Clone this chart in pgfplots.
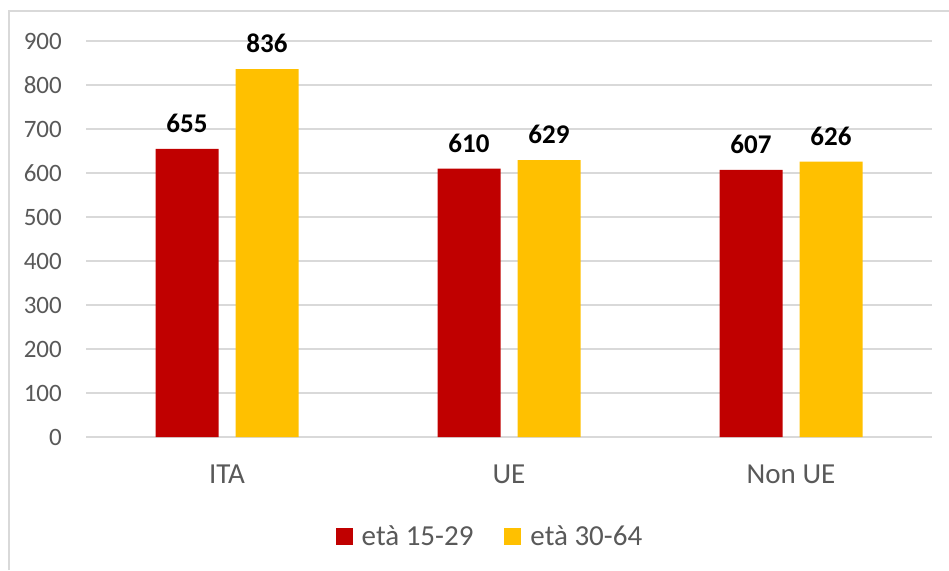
\documentclass[border=0pt]{standalone}
\usepackage{pgfplots}
\pgfplotsset{compat=1.18}
\usepackage{fontspec}
\setmainfont{Carlito}

\definecolor{barred}{HTML}{C00000}
\definecolor{bargold}{HTML}{FFC000}
\definecolor{txtgray}{HTML}{595959}
\definecolor{gridgray}{HTML}{D9D9D9}

\begin{document}
\begin{tikzpicture}
	\useasboundingbox (0pt,0pt) rectangle (949pt,570pt);
	% chart frame (left and top edges visible)
	\draw[gridgray, line width=1.2pt] (9pt,0pt) -- (9pt,559pt) -- (949pt,559pt);

	\begin{axis}[
			at={(86pt,133pt)}, anchor=south west,
			scale only axis,
			width=846pt, height=396pt,
			ybar=17pt, bar width=63pt,
			xmin=-0.5, xmax=2.5,
			ymin=0, ymax=900,
			xtick={0,1,2},
			xticklabels={ITA, UE, Non UE},
			ytick={0,100,...,900},
			major tick length=0pt,
			axis line style={draw=none},
			ymajorgrids,
			grid style={gridgray, line width=1.3pt},
			/pgf/number format/assume math mode=true,
			yticklabel style={font=\fontsize{25}{29}\selectfont, text=txtgray, anchor=east, inner sep=0pt, xshift=-24pt},
			xticklabel style={font=\fontsize{29}{33}\selectfont, text=txtgray, anchor=north, inner sep=0pt, yshift=-28pt},
			nodes near coords,
			every node near coord/.append style={font=\fontsize{27}{32}\selectfont\bfseries, text=black, anchor=south, inner sep=0pt, yshift=16pt},
			clip=false,
			legend columns=2,
			legend style={draw=none, at={(0.4775,-0.25)}, anchor=center,
					font=\fontsize{29}{33}\selectfont, text=txtgray,
					/tikz/every odd column/.append style={column sep=7pt},
					/tikz/every even column/.append style={column sep=29pt}},
			legend image code/.code={\fill[#1] (0pt,-8.5pt) rectangle (17pt,8.5pt);},
		]
		\addplot[fill=barred, draw=none] coordinates {(0,655) (1,610) (2,607)};
		\addlegendentry{età 15-29}
		\addplot[fill=bargold, draw=none] coordinates {(0,836) (1,629) (2,626)};
		\addlegendentry{età 30-64}
	\end{axis}
\end{tikzpicture}
\end{document}
